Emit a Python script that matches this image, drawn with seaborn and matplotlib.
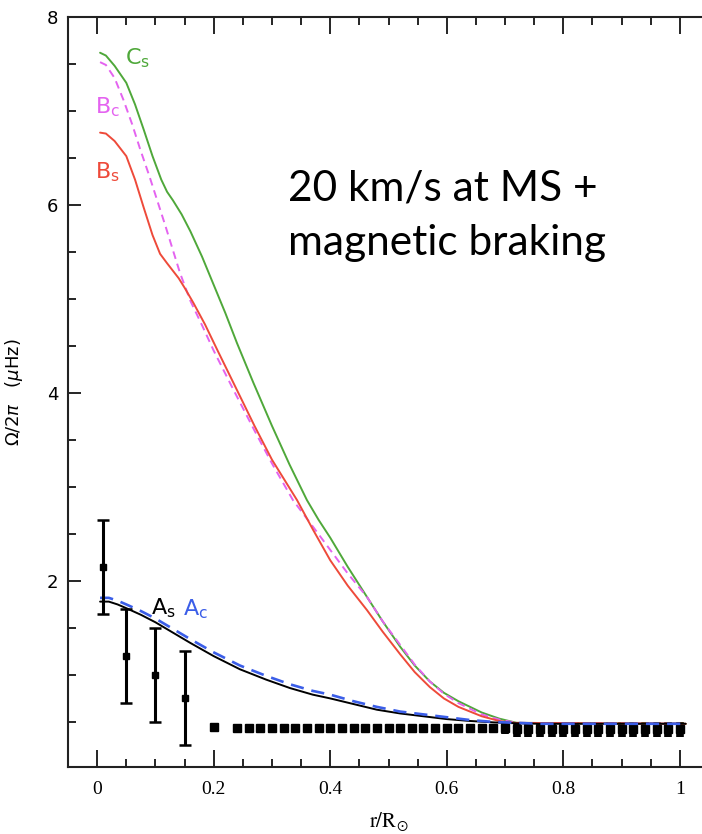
import numpy as np
import pandas as pd
import matplotlib
matplotlib.use("Agg")
import matplotlib.pyplot as plt
import seaborn as sns
from matplotlib.ticker import MultipleLocator, FixedLocator

# --------------------------------------------------
# data
# --------------------------------------------------

# C_s (green, solid)
cs_r = [0.005, 0.015, 0.030, 0.050, 0.065, 0.080, 0.095, 0.110, 0.120, 0.130,
        0.145, 0.160, 0.180, 0.200, 0.220, 0.240, 0.268, 0.300, 0.330, 0.360,
        0.380, 0.400, 0.430, 0.463, 0.490, 0.520, 0.545, 0.571, 0.595, 0.620,
        0.640, 0.660, 0.690, 0.720, 1.010]
cs_om = [7.62, 7.59, 7.48, 7.30, 7.07, 6.80, 6.52, 6.27, 6.14, 6.05,
         5.90, 5.72, 5.45, 5.15, 4.85, 4.53, 4.11, 3.65, 3.24, 2.86,
         2.65, 2.46, 2.15, 1.83, 1.57, 1.30, 1.10, 0.93, 0.81, 0.72,
         0.66, 0.60, 0.535, 0.49, 0.48]

# B_c (magenta, dashed)
bc_r = [0.005, 0.015, 0.030, 0.045, 0.060, 0.074, 0.090, 0.103, 0.117, 0.130,
        0.142, 0.160, 0.180, 0.200, 0.235, 0.270, 0.300, 0.336, 0.370, 0.400,
        0.430, 0.463, 0.490, 0.520, 0.545, 0.571, 0.595, 0.620, 0.640, 0.660,
        0.690, 0.720, 1.010]
bc_om = [7.52, 7.49, 7.35, 7.12, 6.86, 6.59, 6.30, 6.05, 5.78, 5.52,
         5.28, 4.98, 4.72, 4.45, 4.02, 3.60, 3.25, 2.86, 2.58, 2.33,
         2.08, 1.83, 1.57, 1.32, 1.11, 0.93, 0.80, 0.70, 0.64, 0.58,
         0.525, 0.49, 0.48]

# B_s (red, solid)
bs_r = [0.005, 0.015, 0.030, 0.050, 0.065, 0.080, 0.095, 0.108, 0.120, 0.140,
        0.150, 0.165, 0.185, 0.206, 0.240, 0.270, 0.300, 0.343, 0.370, 0.400,
        0.430, 0.463, 0.490, 0.520, 0.545, 0.571, 0.595, 0.620, 0.640, 0.660,
        0.690, 0.715, 1.010]
bs_om = [6.77, 6.76, 6.68, 6.52, 6.27, 5.97, 5.68, 5.48, 5.38, 5.22,
         5.12, 4.96, 4.73, 4.46, 4.03, 3.65, 3.29, 2.86, 2.55, 2.22,
         1.95, 1.69, 1.46, 1.22, 1.03, 0.87, 0.75, 0.66, 0.61, 0.56,
         0.51, 0.49, 0.48]

# A_s (black, solid) and A_c (blue, dashed)
as_r = [0.005, 0.020, 0.035, 0.050, 0.075, 0.100, 0.130, 0.160, 0.200, 0.245,
        0.290, 0.331, 0.370, 0.400, 0.440, 0.480, 0.520, 0.560, 0.600, 0.640,
        0.680, 0.720, 0.760, 1.010]
as_om = [1.78, 1.78, 1.75, 1.71, 1.64, 1.56, 1.45, 1.34, 1.20, 1.06,
         0.95, 0.86, 0.79, 0.75, 0.69, 0.63, 0.59, 0.56, 0.53, 0.51,
         0.495, 0.485, 0.48, 0.48]
ac_om = [1.82, 1.82, 1.79, 1.75, 1.68, 1.60, 1.49, 1.38, 1.24, 1.10,
         0.99, 0.90, 0.83, 0.79, 0.72, 0.66, 0.61, 0.58, 0.55, 0.52,
         0.50, 0.49, 0.48, 0.48]

# observed rotation rates with error bars
obs_r = [0.01, 0.05, 0.10, 0.15]
obs_om = [2.15, 1.20, 1.00, 0.75]
obs_err = [0.50, 0.50, 0.50, 0.50]

# outer points
fine_r = [0.20, 0.24, 0.26, 0.28, 0.30, 0.32, 0.34, 0.36, 0.38, 0.40, 0.42, 0.44,
          0.46, 0.48, 0.50, 0.52, 0.54, 0.56, 0.58, 0.60, 0.62, 0.64, 0.66, 0.68,
          0.70, 0.72, 0.74, 0.76, 0.78, 0.80, 0.82, 0.84, 0.86, 0.88, 0.90, 0.92,
          0.94, 0.96, 0.98, 1.00]
fine_om = [0.45, 0.44, 0.44, 0.44, 0.44, 0.44, 0.44, 0.44, 0.44, 0.44, 0.44, 0.44,
           0.44, 0.44, 0.44, 0.44, 0.44, 0.44, 0.44, 0.44, 0.44, 0.43, 0.43, 0.43,
           0.43, 0.42, 0.42, 0.42, 0.42, 0.42, 0.42, 0.42, 0.42, 0.42, 0.42, 0.42,
           0.42, 0.42, 0.42, 0.42]
fine_err = [0.0, 0.0, 0.0, 0.0, 0.0, 0.0, 0.0, 0.0, 0.0, 0.0, 0.0, 0.0,
            0.0, 0.0, 0.0, 0.0, 0.0, 0.0, 0.0, 0.0, 0.02, 0.03, 0.04, 0.05,
            0.06, 0.08, 0.08, 0.08, 0.08, 0.08, 0.08, 0.08, 0.08, 0.08, 0.08, 0.08,
            0.08, 0.08, 0.08, 0.08]

# --------------------------------------------------
# plotting
# --------------------------------------------------

sns.set_style("ticks", {"xtick.direction": "in", "ytick.direction": "in"})
plt.rcParams["font.family"] = ["DejaVu Sans"]
plt.rcParams["text.color"] = "black"
plt.rcParams["axes.labelcolor"] = "black"
plt.rcParams["xtick.color"] = "black"
plt.rcParams["ytick.color"] = "black"

fig = plt.figure(figsize=(7.02, 8.34), dpi=100)
ax = fig.add_axes([0.0969, 0.0803, 0.9031, 0.8993])

curves = [
    (cs_r, cs_om, "#4fa83a", "-", 1.4),
    (bc_r, bc_om, "#e463f0", (0, (4, 2.6)), 1.4),
    (bs_r, bs_om, "#ee4a3a", "-", 1.4),
    (as_r, as_om, "black", "-", 1.4),
    (as_r, ac_om, "#3b5ee8", (0, (5, 3)), 1.9),
]
for r, om, col, ls, lw in curves:
    df = pd.DataFrame({"r": r, "om": om})
    sns.lineplot(data=df, x="r", y="om", ax=ax, color=col, linestyle=ls,
                 lw=lw, sort=False, estimator=None, zorder=3)

ax.errorbar(obs_r, obs_om, yerr=obs_err, fmt="s", color="black", ms=5,
            elinewidth=2.2, capsize=4, capthick=1.8, zorder=4)
ax.errorbar(fine_r, fine_om, yerr=fine_err, fmt="s", color="black", ms=5.5,
            elinewidth=5.5, capsize=0, zorder=2)

# curve labels
lab_kw = dict(fontsize=16, ha="center", va="center")
ax.text(0.069, 7.56, r"$\mathregular{C_s}$", color="#4fa83a", **lab_kw)
ax.text(0.017, 7.04, r"$\mathregular{B_c}$", color="#e463f0", **lab_kw)
ax.text(0.017, 6.35, r"$\mathregular{B_s}$", color="#ee4a3a", **lab_kw)
ax.text(0.113, 1.71, r"$\mathregular{A_s}$", color="black", **lab_kw)
ax.text(0.168, 1.70, r"$\mathregular{A_c}$", color="#3b5ee8", **lab_kw)

# annotation
fig.text(0.410, 0.759, "20 km/s at MS +", fontsize=30.5, family="Lato",
         ha="left", va="baseline", color="black")
fig.text(0.410, 0.694, "magnetic braking", fontsize=30.5, family="Lato",
         ha="left", va="baseline", color="black")

ax.set_xlim(-0.05, 1.038)
ax.set_ylim(0.02, 8)
ax.xaxis.set_major_locator(FixedLocator([0, 0.2, 0.4, 0.6, 0.8, 1.0]))
ax.set_xticklabels(["0", "0.2", "0.4", "0.6", "0.8", "1"])
ax.xaxis.set_minor_locator(MultipleLocator(0.05))
ax.yaxis.set_major_locator(FixedLocator([2, 4, 6, 8]))
ax.set_yticklabels(["2", "4", "6", "8"])
ax.yaxis.set_minor_locator(MultipleLocator(0.5))

ax.tick_params(axis="x", which="both", top=True, bottom=True, direction="in",
               labelsize=14, labelfontfamily="Liberation Serif", pad=10)
ax.tick_params(axis="x", which="major", length=12, width=1.2)
ax.tick_params(axis="x", which="minor", length=6, width=1.2)
ax.tick_params(axis="y", which="both", left=True, right=False, direction="in",
               labelsize=13, pad=7)
ax.tick_params(axis="y", which="major", length=9.5, width=1.2)
ax.tick_params(axis="y", which="minor", length=6, width=1.2)

for side in ["left", "bottom", "top"]:
    ax.spines[side].set_linewidth(1.5)
    ax.spines[side].set_color("#222222")
ax.spines["right"].set_visible(False)

ax.set_xlabel(r"$\mathrm{r/R_{\odot}}$", fontsize=15, math_fontfamily="stix")
ax.xaxis.set_label_coords(0.506, -0.058)
ax.set_ylabel(r"$\Omega/2\pi$   ($\mu$Hz)", fontsize=13)
ax.yaxis.set_label_coords(-0.068, 0.5)

fig.savefig("out.png", dpi=100)
